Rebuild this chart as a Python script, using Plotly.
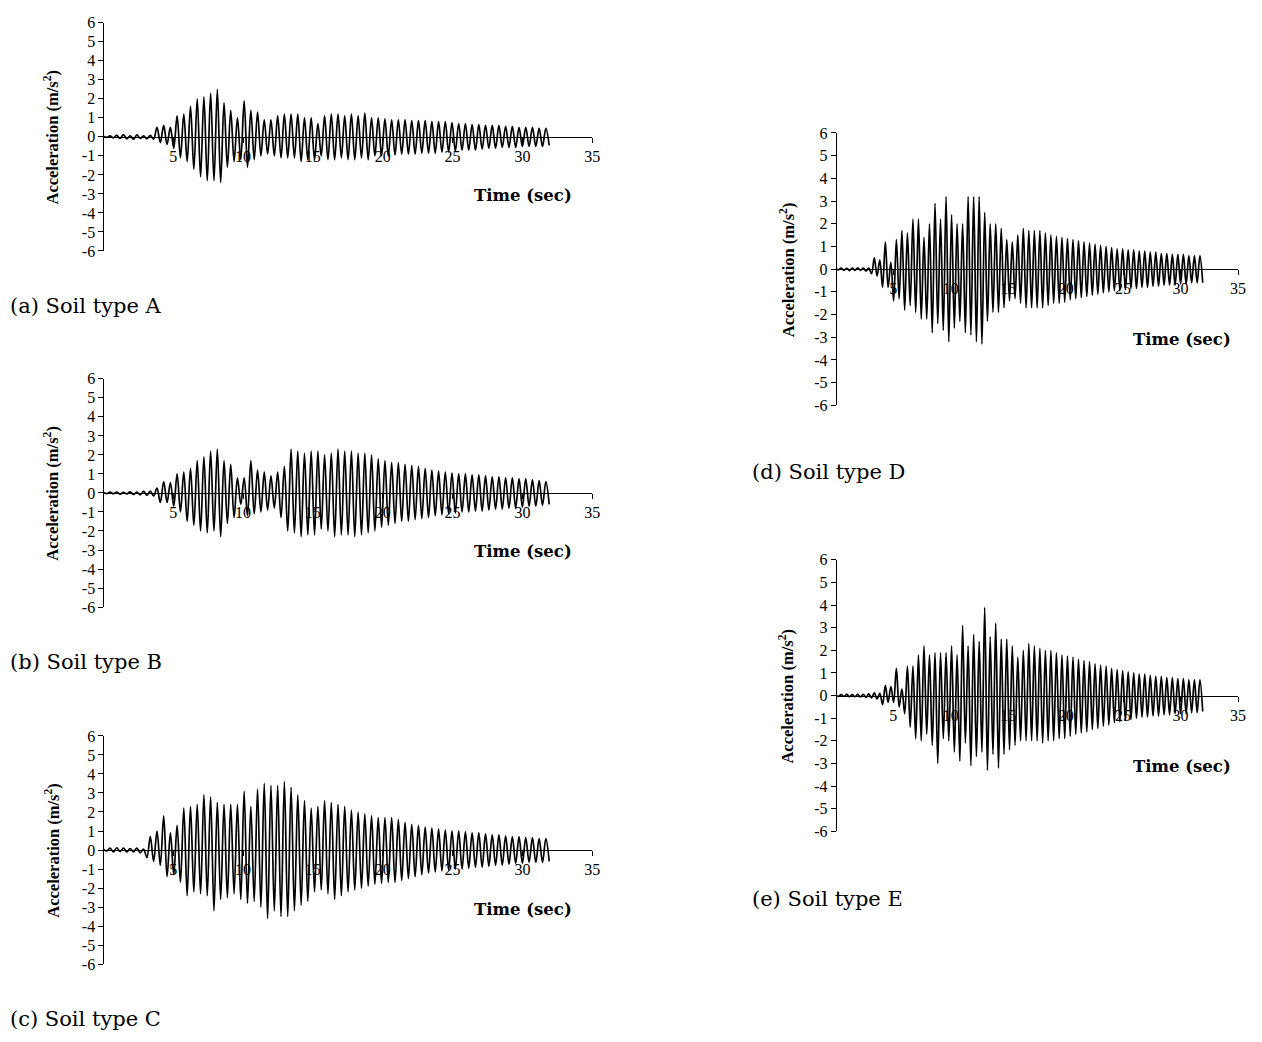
import plotly.graph_objects as go

# ---------------- data ----------------
# time of each alternating peak (s)
peak_times = [
    0, 0.24, 0.48, 0.72, 0.96, 1.2, 1.44, 1.68, 1.92, 2.16, 2.4, 2.64, 2.88, 3.12, 3.36, 3.6, 3.84, 4.08, 4.32, 4.56, 4.8, 5.04, 5.28, 5.52, 5.76,
    6, 6.24, 6.48, 6.72, 6.96, 7.2, 7.44, 7.68, 7.92, 8.16, 8.4, 8.64, 8.88, 9.12, 9.36, 9.6, 9.84, 10.08, 10.32, 10.56, 10.8, 11.04, 11.28, 11.52, 11.76,
    12, 12.24, 12.48, 12.72, 12.96, 13.2, 13.44, 13.68, 13.92, 14.16, 14.4, 14.64, 14.88, 15.12, 15.36, 15.6, 15.84, 16.08, 16.32, 16.56, 16.8, 17.04, 17.28, 17.52, 17.76,
    18, 18.24, 18.48, 18.72, 18.96, 19.2, 19.44, 19.68, 19.92, 20.16, 20.4, 20.64, 20.88, 21.12, 21.36, 21.6, 21.84, 22.08, 22.32, 22.56, 22.8, 23.04, 23.28, 23.52, 23.76,
    24, 24.24, 24.48, 24.72, 24.96, 25.2, 25.44, 25.68, 25.92, 26.16, 26.4, 26.64, 26.88, 27.12, 27.36, 27.6, 27.84, 28.08, 28.32, 28.56, 28.8, 29.04, 29.28, 29.52, 29.76,
    30, 30.24, 30.48, 30.72, 30.96, 31.2, 31.44, 31.68, 31.92,
]

# Soil type A
a_pos = [0.03, 0.05, 0.08, 0.12, 0.06, 0.10, 0.05, 0.08, 0.50, 0.60,
         0.50, 1.10, 1.20, 1.60, 2.00, 2.10, 2.30, 2.50, 1.80, 1.40,
         1.00, 1.90, 1.40, 1.30, 0.90, 0.90, 1.10, 1.20, 1.20, 1.20,
         1.00, 1.00, 0.70, 1.10, 1.20, 1.20, 1.10, 1.20, 1.10, 1.25,
         1.00, 1.00, 0.95, 0.90, 0.90, 0.90, 0.85, 0.85, 0.85, 0.80,
         0.80, 0.80, 0.75, 0.70, 0.70, 0.65, 0.65, 0.60, 0.60, 0.60,
         0.55, 0.55, 0.50, 0.50, 0.50, 0.45, 0.45]
a_neg = [-0.03, -0.05, -0.08, -0.10, -0.12, -0.08, -0.10, -0.12, -0.30, -0.40,
         -0.60, -1.10, -1.30, -1.70, -2.10, -2.30, -2.30, -2.40, -1.60, -1.30,
         -1.20, -1.60, -1.20, -1.00, -0.90, -1.00, -1.10, -1.10, -1.10, -1.30,
         -1.20, -1.20, -1.00, -1.20, -1.20, -1.10, -1.20, -1.20, -1.10, -1.20,
         -1.00, -1.00, -1.00, -0.95, -0.90, -0.90, -0.90, -0.85, -0.85, -0.85,
         -0.80, -0.80, -0.75, -0.70, -0.70, -0.70, -0.65, -0.60, -0.60, -0.55,
         -0.55, -0.55, -0.50, -0.50, -0.50, -0.50, -0.45]

# Soil type B
b_pos = [0.02, 0.04, 0.05, 0.03, 0.06, 0.05, 0.08, 0.10, 0.25, 0.60,
         0.55, 1.00, 1.10, 1.30, 1.70, 1.90, 2.20, 2.30, 1.70, 1.50,
         0.80, 0.80, 1.70, 1.20, 1.10, 0.90, 1.10, 1.40, 2.30, 2.20,
         2.10, 2.20, 2.20, 2.00, 2.10, 2.30, 2.20, 2.20, 2.10, 2.10,
         2.00, 1.80, 1.70, 1.60, 1.60, 1.50, 1.45, 1.40, 1.30, 1.20,
         1.15, 1.10, 1.05, 1.00, 1.00, 0.95, 0.95, 0.90, 0.85, 0.85,
         0.80, 0.80, 0.75, 0.75, 0.70, 0.65, 0.60]
b_neg = [-0.03, -0.04, -0.06, -0.05, -0.08, -0.10, -0.12, -0.15, -0.50, -0.50,
         -0.70, -1.00, -1.50, -1.70, -2.00, -2.10, -2.00, -2.30, -1.60, -1.30,
         -0.60, -1.20, -1.10, -1.00, -0.90, -0.80, -1.30, -2.00, -2.10, -2.30,
         -2.20, -2.20, -1.90, -2.00, -2.30, -2.20, -2.20, -2.30, -2.20, -2.10,
         -2.00, -1.80, -1.70, -1.60, -1.50, -1.50, -1.40, -1.35, -1.30, -1.20,
         -1.15, -1.10, -1.05, -1.00, -1.00, -0.95, -0.95, -0.90, -0.85, -0.85,
         -0.80, -0.80, -0.75, -0.70, -0.70, -0.65, -0.60]

# Soil type C
c_pos = [0.05, 0.10, 0.12, 0.10, 0.08, 0.10, 0.05, 0.70, 1.00, 1.80,
         0.90, 1.30, 2.20, 2.30, 2.40, 2.90, 2.80, 2.50, 2.40, 2.40,
         2.40, 3.10, 2.30, 3.20, 3.50, 3.40, 3.40, 3.60, 3.30, 2.90,
         2.60, 2.20, 2.30, 2.60, 2.50, 2.40, 2.30, 2.10, 2.00, 1.90,
         1.80, 1.70, 1.70, 1.70, 1.60, 1.45, 1.35, 1.30, 1.20, 1.15,
         1.10, 1.05, 1.00, 1.00, 0.95, 0.90, 0.90, 0.85, 0.80, 0.80,
         0.75, 0.70, 0.70, 0.65, 0.65, 0.60, 0.60]
c_neg = [-0.05, -0.10, -0.08, -0.10, -0.10, -0.15, -0.40, -0.60, -0.80, -1.40,
         -1.30, -1.70, -2.40, -2.20, -2.30, -2.40, -3.20, -2.60, -2.50, -2.30,
         -2.60, -2.80, -2.70, -3.00, -3.60, -3.20, -3.50, -3.50, -3.20, -2.90,
         -2.70, -2.20, -2.10, -2.30, -2.60, -2.40, -2.20, -2.10, -2.00, -1.90,
         -1.80, -1.75, -1.70, -1.70, -1.60, -1.50, -1.40, -1.30, -1.20, -1.15,
         -1.10, -1.05, -1.00, -1.00, -0.95, -0.90, -0.90, -0.85, -0.80, -0.80,
         -0.75, -0.70, -0.70, -0.65, -0.65, -0.65, -0.60]

# Soil type D
d_pos = [0.03, 0.05, 0.04, 0.05, 0.06, 0.05, 0.05, 0.50, 0.40, 1.20,
         0.30, 1.30, 1.70, 1.60, 2.20, 2.20, 1.40, 2.00, 2.90, 2.20,
         3.20, 2.40, 2.00, 2.00, 3.20, 3.20, 3.20, 2.50, 2.00, 2.00,
         1.80, 1.30, 1.20, 1.50, 1.80, 1.70, 1.70, 1.70, 1.60, 1.50,
         1.45, 1.40, 1.35, 1.30, 1.25, 1.20, 1.15, 1.10, 1.05, 1.00,
         0.95, 0.90, 0.90, 0.85, 0.85, 0.80, 0.80, 0.75, 0.75, 0.70,
         0.70, 0.65, 0.65, 0.65, 0.60, 0.60, 0.60]
d_neg = [-0.03, -0.05, -0.06, -0.05, -0.05, -0.08, -0.20, -0.30, -0.80, -0.80,
         -1.40, -1.30, -1.80, -1.60, -1.90, -2.20, -2.20, -2.80, -2.40, -2.70,
         -3.20, -2.60, -2.30, -2.80, -2.90, -3.20, -3.30, -2.30, -1.90, -1.90,
         -1.70, -1.40, -1.30, -1.50, -1.70, -1.70, -1.70, -1.70, -1.60, -1.50,
         -1.50, -1.45, -1.35, -1.30, -1.25, -1.20, -1.15, -1.10, -1.05, -1.00,
         -0.95, -0.95, -0.90, -0.85, -0.85, -0.80, -0.80, -0.75, -0.75, -0.70,
         -0.70, -0.70, -0.65, -0.65, -0.60, -0.60, -0.60]

# Soil type E
e_pos = [0.03, 0.04, 0.05, 0.04, 0.05, 0.06, 0.08, 0.12, 0.10, 0.45,
         0.40, 1.20, 0.30, 1.30, 1.30, 1.80, 2.20, 1.80, 1.90, 1.90,
         1.90, 2.20, 1.80, 3.10, 2.20, 2.70, 2.40, 3.90, 2.60, 3.20,
         2.50, 2.50, 2.20, 1.70, 2.00, 2.30, 2.20, 2.10, 2.00, 2.00,
         1.90, 1.80, 1.75, 1.70, 1.60, 1.55, 1.50, 1.40, 1.35, 1.30,
         1.20, 1.15, 1.10, 1.05, 1.00, 0.95, 0.95, 0.90, 0.85, 0.85,
         0.80, 0.80, 0.75, 0.75, 0.70, 0.70, 0.70]
e_neg = [-0.03, -0.04, -0.05, -0.05, -0.06, -0.08, -0.10, -0.15, -0.40, -0.30,
         -0.30, -0.50, -0.80, -1.40, -1.90, -2.00, -1.70, -2.20, -3.00, -1.90,
         -2.00, -2.50, -2.90, -2.10, -3.10, -2.70, -2.50, -3.30, -2.60, -3.20,
         -2.60, -2.40, -2.20, -2.00, -2.00, -2.00, -2.00, -2.10, -2.00, -2.00,
         -1.90, -1.90, -1.80, -1.70, -1.65, -1.60, -1.50, -1.45, -1.35, -1.30,
         -1.20, -1.15, -1.10, -1.05, -1.00, -0.95, -0.95, -0.90, -0.90, -0.85,
         -0.85, -0.80, -0.80, -0.80, -0.75, -0.75, -0.70]

captions = ["(a) Soil type A", "(b) Soil type B", "(c) Soil type C",
            "(d) Soil type D", "(e) Soil type E"]
x_tick_vals = [5, 10, 15, 20, 25, 30, 35]
x_tick_text = ["5", "10", "15", "20", "25", "30", "35"]
y_tick_vals = [-6, -5, -4, -3, -2, -1, 0, 1, 2, 3, 4, 5, 6]
y_tick_text = ["-6", "-5", "-4", "-3", "-2", "-1", "0", "1", "2", "3", "4", "5", "6"]
y_title = "Acceleration (m/s<sup>2</sup>)"
x_title = "Time (sec)"

# ---------------- layout (pixel geometry) ----------------
W, H = 1262, 1042
def fx(px):
    return px / W
def fy(py):
    return 1 - py / H

# x0, x1, ytop, ybot, ytitle_x, xtitle_x, xtitle_dy, caption_x, caption_y
panels = [
    (104, 596, 15, 247, 52, 526, 60, 8, 303),
    (104, 596, 377, 609, 52, 526, 60, 8, 665),
    (104, 596, 740, 972, 52, 526, 60, 8, 1028),
    (841, 1246, 127, 404, 792, 1190, 72, 755, 472),
    (841, 1246, 561, 837, 792, 1190, 72, 755, 906),
]
series = [(a_pos, a_neg), (b_pos, b_neg), (c_pos, c_neg), (d_pos, d_neg), (e_pos, e_neg)]

SERIF = "Liberation Serif, Times New Roman, serif"
WIDE_SERIF = "DejaVu Serif, serif"
fig = go.Figure()
annotations = []
for i, ((pos, neg), (x0, x1, yt, yb, ytx, xtx, xtdy, cx, cy)) in enumerate(zip(series, panels)):
    vals = []
    for p, n in zip(pos, neg):
        vals.extend([p, n])
    assert len(vals) == len(peak_times)
    k = "" if i == 0 else str(i + 1)
    fig.add_trace(go.Scatter(
        x=peak_times, y=vals, mode="lines",
        line=dict(color="black", width=1.7, shape="spline", smoothing=1.0),
        xaxis="x" + k, yaxis="y" + k, showlegend=False, hoverinfo="skip"))
    zero_py = (yt + yb) / 2
    fig.layout["xaxis" + k] = dict(
        domain=[fx(x0), fx(x1)], range=[0, 35], anchor="free", position=fy(zero_py),
        showline=True, linecolor="black", linewidth=1, ticks="outside", ticklen=5,
        tickcolor="black", tickvals=x_tick_vals, ticktext=x_tick_text,
        showgrid=False, zeroline=False,
        tickfont=dict(family=SERIF, size=16, color="black"))
    fig.layout["yaxis" + k] = dict(
        domain=[fy(yb), fy(yt)], range=[-6, 6], anchor="free", position=fx(x0),
        showline=True, linecolor="black", linewidth=1, ticks="outside", ticklen=5,
        tickcolor="black", tickvals=y_tick_vals, ticktext=y_tick_text,
        showgrid=False, zeroline=False,
        tickfont=dict(family=SERIF, size=16, color="black"))
    annotations.append(dict(
        text="<b>" + y_title + "</b>", xref="paper", yref="paper",
        x=fx(ytx), y=fy(zero_py), textangle=-90, showarrow=False,
        xanchor="center", yanchor="middle",
        font=dict(family=SERIF, size=16.5, color="black")))
    annotations.append(dict(
        text="<b>" + x_title + "</b>", xref="paper", yref="paper",
        x=fx(xtx), y=fy(zero_py + xtdy), showarrow=False,
        xanchor="center", yanchor="middle",
        font=dict(family=WIDE_SERIF, size=16.5, color="black")))
    annotations.append(dict(
        text=captions[i], xref="paper", yref="paper",
        x=fx(cx), y=fy(cy), showarrow=False,
        xanchor="left", yanchor="middle",
        font=dict(family=WIDE_SERIF, size=21, color="black")))

fig.update_layout(
    width=W, height=H, margin=dict(l=0, r=0, t=0, b=0),
    paper_bgcolor="white", plot_bgcolor="white",
    annotations=annotations, showlegend=False)

fig.write_html(
    "out.html", config={"displayModeBar": False},
    post_script=(
        "document.documentElement.style.margin='0';"
        "document.body.style.margin='0';"
        "document.documentElement.style.overflow='hidden';"
        "document.body.style.overflow='hidden';"
        "var gd=document.getElementById('{plot_id}');"
        "gd.style.position='absolute';gd.style.left='0px';gd.style.top='0px';"
    ))
